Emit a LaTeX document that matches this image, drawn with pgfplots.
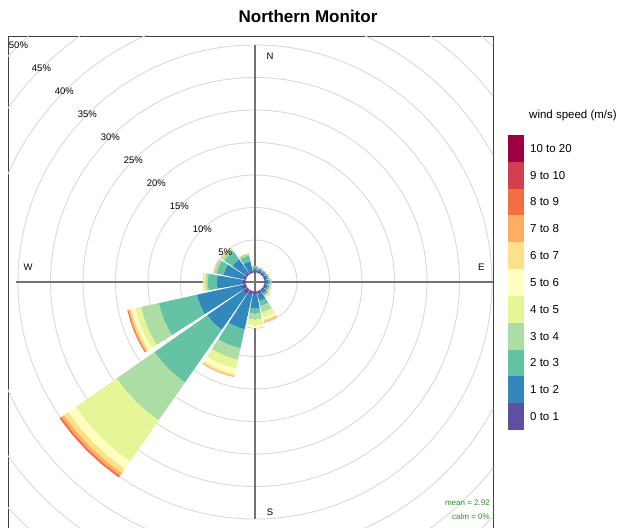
\documentclass[border=0pt]{standalone}
\usepackage{pgfplots}
\usepackage{pgfplotstable}
\pgfplotsset{compat=1.18}
\usepackage{fontspec}
\setmainfont{Liberation Sans}
\newcommand\fs[1]{\fontsize{#1}{#1}\selectfont}
\definecolor{wr1}{HTML}{5E4FA2}
\definecolor{wr2}{HTML}{3288BD}
\definecolor{wr3}{HTML}{66C2A5}
\definecolor{wr4}{HTML}{ABDDA4}
\definecolor{wr5}{HTML}{E6F598}
\definecolor{wr6}{HTML}{FFFFBF}
\definecolor{wr7}{HTML}{FEE08B}
\definecolor{wr8}{HTML}{FDAE61}
\definecolor{wr9}{HTML}{F46D43}
\definecolor{wr10}{HTML}{D53E4F}
\definecolor{wr11}{HTML}{9E0142}
\definecolor{calmgreen}{HTML}{2E8B2E}
% cumulative frequency (%) at the upper edge of each speed class, by wind direction
\pgfplotstableread{
dir   c0  c1   c2    c3    c4    c5    c6    c7    c8    c9
0     0   0.3  0.6   0.9   1.0   1.0   1.0   1.0   1.0   1.0
22.5  0   0.3  0.55  0.75  0.8   0.8   0.8   0.8   0.8   0.8
45    0   0.3  0.5   0.7   0.7   0.7   0.7   0.7   0.7   0.7
67.5  0   0.3  0.55  0.75  0.8   0.8   0.8   0.8   0.8   0.8
90    0   0.3  0.65  0.9   1.0   1.05  1.05  1.05  1.05  1.05
112.5 0   0.3  0.6   0.85  1.0   1.1   1.1   1.1   1.1   1.1
135   0   0.3  0.7   1.0   1.2   1.4   1.45  1.45  1.45  1.45
157.5 0   0.4  1.5   2.3   3.3   4.2   4.5   4.75  4.85  4.85
180   0   0.5  2.6   3.4   4.3   5.2   5.6   5.65  5.65  5.65
202.5 0   0.6  6.0   9.0   10.8  12.2  13.1  13.4  13.5  13.5
225   0   0.8  7.5   17.4  24.5  32.2  33.6  34.4  34.9  35.2
247.5 0   0.7  7.7   13.7  16.5  17.4  18.0  18.3  18.5  18.65
270   0   0.5  4.4   5.8   6.2   6.4   6.5   6.55  6.55  6.55
292.5 0   0.4  3.5   4.6   5.0   5.1   5.1   5.1   5.1   5.1
315   0   0.4  2.8   4.3   4.8   4.9   4.9   4.9   4.9   4.9
337.5 0   0.3  1.8   2.7   3.0   3.0   3.0   3.0   3.0   3.0
}\rosedata
\def\off{1.4615}
\begin{document}
\begin{tikzpicture}
\useasboundingbox (0,0) rectangle (624bp,528bp);
\node[font=\fs{17bp}\bfseries, inner sep=0pt] at (308bp,512bp) {Northern Monitor};
\begin{axis}[at={(8bp,0bp)}, anchor=south west, scale only axis,
  width=485bp, height=492bp,
  xmin=-38.0, xmax=36.615, ymin=-37.846, ymax=37.846,
  xtick=\empty, ytick=\empty,
  axis line style={draw=black!75, line width=0.9bp}]
  % grid circles
  \pgfplotsinvokeforeach{0,5,10,15,20,25,30,35,40,45,50}{
    \draw[black!15, line width=0.9bp] (axis cs:0,0) circle[radius={#1+\off}];
  }
  % cross lines
  \draw[black!55, line width=1.1bp] (axis cs:-36.75,0) -- (axis cs:36.75,0);
  \draw[black!55, line width=1.1bp] (axis cs:0,-36.5) -- (axis cs:0,36.5);
  % sectors
  \pgfplotsforeachungrouped \i in {0,...,143}{%
    \pgfmathtruncatemacro\row{floor(\i/9)}%
    \pgfmathtruncatemacro\k{mod(\i,9)+1}%
    \pgfmathtruncatemacro\km{\k-1}%
    \pgfplotstablegetelem{\row}{dir}\of\rosedata \let\dir\pgfplotsretval
    \pgfplotstablegetelem{\row}{c\k}\of\rosedata \let\cur\pgfplotsretval
    \pgfplotstablegetelem{\row}{c\km}\of\rosedata \let\prev\pgfplotsretval
    \pgfmathsetmacro\aA{90-\dir-10.125}%
    \pgfmathsetmacro\aB{90-\dir-5.0625}%
    \pgfmathsetmacro\aC{90-\dir}%
    \pgfmathsetmacro\aD{90-\dir+5.0625}%
    \pgfmathsetmacro\aE{90-\dir+10.125}%
    \pgfmathsetmacro\rin{\off+\prev}%
    \pgfmathsetmacro\rout{\off+\cur}%
    \edef\temp{\noexpand\addplot[draw=none, fill=wr\k, data cs=polar, forget plot] coordinates {(\aA,\rin) (\aA,\rout) (\aB,\rout) (\aC,\rout) (\aD,\rout) (\aE,\rout) (\aE,\rin) (\aD,\rin) (\aC,\rin) (\aB,\rin)};}%
    \temp
  }
  % percentage labels
  \pgfplotsinvokeforeach{5,10,15,20,25,30,35,40,45,50}{
    \node[font=\fs{9.5bp}] at (axis cs:{-(#1+\off)*0.70711},{(#1+\off)*0.70711}) {#1\%};
  }
  \node[font=\fs{9.5bp}] at (axis cs:2.31,34.8) {N};
  \node[font=\fs{9.5bp}] at (axis cs:34.8,2.31) {E};
  \node[font=\fs{9.5bp}] at (axis cs:-34.9,2.31) {W};
  \node[font=\fs{9.5bp}] at (axis cs:2.31,-35.4) {S};
  \node[font=\fs{8bp}, text=calmgreen, anchor=east, inner sep=0pt] at (axis cs:36.15,-34.0) {mean = 2.92};
  \node[font=\fs{8bp}, text=calmgreen, anchor=east, inner sep=0pt] at (axis cs:36.15,-36.15) {calm = 0\%};
\end{axis}
% legend
\node[font=\fs{11.5bp}, anchor=west, inner sep=0pt] at (529bp,412bp) {wind speed (m/s)};
\foreach \k/\lab in {1/0 to 1, 2/1 to 2, 3/2 to 3, 4/3 to 4, 5/4 to 5, 6/5 to 6, 7/6 to 7, 8/7 to 8, 9/8 to 9, 10/9 to 10, 11/10 to 20}{
  \fill[wr\k] (508bp,{98bp+(\k-1)*26.82bp}) rectangle (524bp,{98bp+\k*26.82bp});
  \node[font=\fs{11.5bp}, anchor=west, inner sep=0pt] at (530bp,{98bp+(\k-0.5)*26.82bp}) {\lab};
}
\end{tikzpicture}
\end{document}
